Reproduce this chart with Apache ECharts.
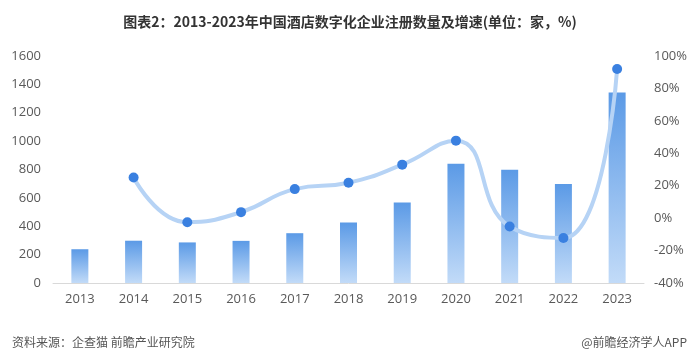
<!DOCTYPE html>
<html><head><meta charset="utf-8">
<script src="https://cdn.jsdelivr.net/npm/echarts@6/dist/echarts.min.js"></script>
<style>html,body{margin:0;padding:0;background:#fff}#c{width:700px;height:357px}</style>
</head><body><div id="c"></div>
<script>
const categories = ['2013','2014','2015','2016','2017','2018','2019','2020','2021','2022','2023'];
const registrations = [238, 298, 286, 297, 351, 426, 568, 840, 798, 697, 1343];
const growth = [null, 25.1, -2.5, 3.7, 17.9, 21.8, 33.0, 47.8, -5.2, -12.3, 92.0];
const leftTicks = [0, 1600, 200];
const rightTicks = [-40, 100, 20];

const chart = echarts.init(document.getElementById('c'));
chart.setOption({
  animation: false,
  title: [{
    text: '图表2：2013-2023年中国酒店数字化企业注册数量及增速(单位：家，%)',
    left: 'center', top: 10,
    textStyle: {fontSize: 14, fontWeight: 'bold', color: '#333', fontFamily: 'Noto Sans CJK SC'}
  }, {
    text: '资料来源：企查猫 前瞻产业研究院', left: 7, top: 331,
    textStyle: {fontSize: 12, fontWeight: 'normal', color: '#555', fontFamily: 'Noto Sans CJK SC'}
  }, {
    text: '@前瞻经济学人APP', right: 8, top: 331,
    textStyle: {fontSize: 12, fontWeight: 'normal', color: '#555', fontFamily: 'Noto Sans CJK SC'}
  }],
  grid: {left: 53, right: 56, top: 56, bottom: 74, containLabel: false},
  xAxis: {
    type: 'category', data: categories,
    axisLine: {lineStyle: {color: '#d9d9d9'}},
    axisTick: {show: false},
    axisLabel: {color: '#595959', fontSize: 13, margin: 10, fontFamily: 'Open Sans'}
  },
  yAxis: [{
    type: 'value', min: leftTicks[0], max: leftTicks[1], interval: leftTicks[2],
    splitLine: {show: false}, axisLine: {show: false}, axisTick: {show: false},
    axisLabel: {color: '#595959', fontSize: 13, margin: 12, fontFamily: 'Open Sans', formatter: v => String(v)}
  }, {
    type: 'value', min: rightTicks[0], max: rightTicks[1], interval: rightTicks[2],
    splitLine: {show: false}, axisLine: {show: false}, axisTick: {show: false},
    axisLabel: {color: '#595959', fontSize: 13, margin: 10, formatter: '{value}%', fontFamily: 'Open Sans'}
  }],
  series: [{
    type: 'bar', data: registrations, barWidth: 17,
    itemStyle: {color: new echarts.graphic.LinearGradient(0,0,0,1,[
      {offset: 0, color: '#5b9ae6'}, {offset: 1, color: '#c2dbf8'}])}
  }, {
    type: 'line', yAxisIndex: 1, data: growth, smooth: 0.5,
    symbol: 'circle', symbolSize: 10,
    lineStyle: {color: '#b6d3f5', width: 4},
    itemStyle: {color: '#3a80e0'}
  }]
});
</script></body></html>
